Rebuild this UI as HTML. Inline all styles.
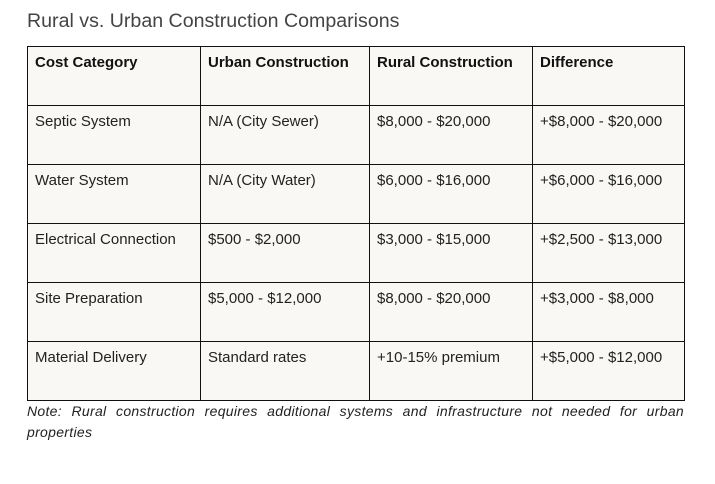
<!DOCTYPE html>
<html><head><style>
body{margin:0;width:715px;height:484px;background:#fff;font-family:"Liberation Sans",Arial,sans-serif;position:relative;overflow:hidden}
.t{position:absolute;left:27px;top:10px;font-size:19.6px;color:#444}
table{position:absolute;left:27px;top:46px;border-collapse:collapse;background:#f9f8f4}
td,th{border:1.5px solid #111;height:59px;box-sizing:border-box;padding:7px 7px 0 7px;vertical-align:top;text-align:left;font-size:15px;color:#222;line-height:18px}
th{font-weight:bold;color:#111}
.n{position:absolute;left:27px;width:657px;font-size:14px;letter-spacing:0.3px;font-style:italic;color:#222;line-height:21px}
</style></head><body>
<div class="t">Rural vs. Urban Construction Comparisons</div>
<table>
<tr><th style="width:173px">Cost Category</th><th style="width:169px">Urban Construction</th><th style="width:163px">Rural Construction</th><th style="width:152px">Difference</th></tr>
<tr><td>Septic System</td><td>N/A (City Sewer)</td><td>$8,000 - $20,000</td><td>+$8,000 - $20,000</td></tr>
<tr><td>Water System</td><td>N/A (City Water)</td><td>$6,000 - $16,000</td><td>+$6,000 - $16,000</td></tr>
<tr><td>Electrical Connection</td><td>$500 - $2,000</td><td>$3,000 - $15,000</td><td>+$2,500 - $13,000</td></tr>
<tr><td>Site Preparation</td><td>$5,000 - $12,000</td><td>$8,000 - $20,000</td><td>+$3,000 - $8,000</td></tr>
<tr><td>Material Delivery</td><td>Standard rates</td><td>+10-15% premium</td><td>+$5,000 - $12,000</td></tr>
</table>
<div class="n" style="top:401px;text-align:justify;text-align-last:justify">Note: Rural construction requires additional systems and infrastructure not needed for urban</div>
<div class="n" style="top:422px">properties</div>
</body></html>
